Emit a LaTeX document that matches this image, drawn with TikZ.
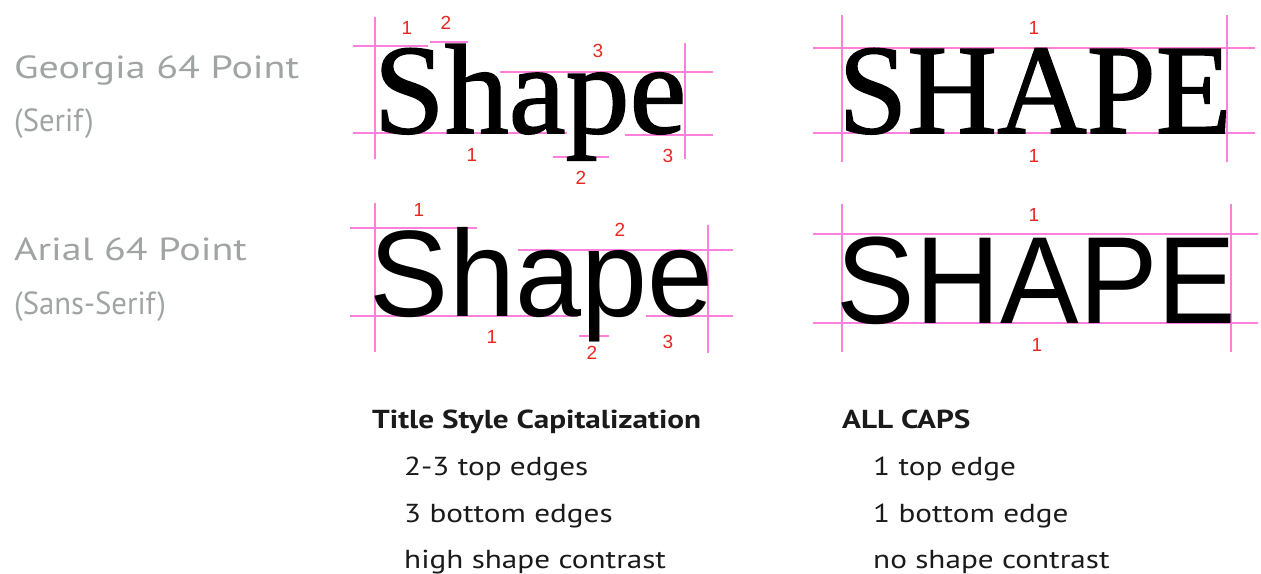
\documentclass[tikz,border=0pt]{standalone}
\usepackage{fontspec}
\usepackage{graphicx}
\setmainfont{PT Sans}
\newfontfamily\serifA{Liberation Serif}[FakeBold=1.2]
\newfontfamily\sansA{Liberation Sans}
\definecolor{guidepink}{HTML}{FF80DC}
\definecolor{numred}{HTML}{E8281E}
\definecolor{labgray}{HTML}{A0A4A2}
\definecolor{txt}{HTML}{1A1A1A}
\newcommand{\wide}[1]{\scalebox{1.2}[1]{#1}}
\begin{document}
\begin{tikzpicture}[x=1pt,y=-1pt,
  guide/.style={draw=guidepink,line width=1.5pt},
  num/.style={text=numred,font=\sansA\fontsize{19}{19}\selectfont,inner sep=0pt,anchor=center},
  big/.style={inner sep=0pt,anchor=base,text=black},
  lab/.style={inner sep=0pt,anchor=base west,text=labgray,font=\fontsize{32}{32}\selectfont},
  body/.style={inner sep=0pt,anchor=base west,text=txt,font=\fontsize{26}{26}\selectfont},
  head/.style={body,font=\bfseries\fontsize{26}{26}\selectfont}]
\useasboundingbox (0,0) rectangle (1261,573);

% left labels
\node[lab] (geo) at (14,78) {\scalebox{1.25}[1]{Georgia 64 Point}};
\node[lab] (geos) at (14,131) {\scalebox{0.96}[1]{(Serif)}};
\node[lab] (ari) at (14,260) {\scalebox{1.25}[1]{Arial 64 Point}};
\node[lab] (aris) at (14,314) {\scalebox{0.96}[1]{(Sans-Serif)}};

% ---- Georgia Shape ----
\draw[guide] (375,17) -- (375,159);
\draw[guide] (685,43) -- (685,159);
\draw[guide] (353,46) -- (428,46);
\draw[guide] (430,42) -- (468,42);
\draw[guide] (500,72) -- (713,72);
\draw[guide] (353,133) -- (567,133);
\draw[guide] (625,135) -- (713,135);
\draw[guide] (553,157) -- (609,157);
\node[big,font=\serifA\fontsize{128}{128}\selectfont] (gs) at (530,133) {Shape};
\node[num] (g1) at (407,28) {1};
\node[num] (g2) at (446,23) {2};
\node[num] (g3) at (598,51) {3};
\node[num] (g1b) at (472,155) {1};
\node[num] (g2b) at (581,178) {2};
\node[num] (g3b) at (668,156) {3};

% ---- Georgia SHAPE ----
\draw[guide] (842,15) -- (842,162);
\draw[guide] (1227,15) -- (1227,162);
\draw[guide] (813,48) -- (1255,48);
\draw[guide] (813,133) -- (1255,133);
\node[big,font=\serifA\fontsize{128}{128}\selectfont] (gc) at (1035,133) {\scalebox{0.97}[1]{SHAPE}};
\node[num] (gc1) at (1034,28) {1};
\node[num] (gc1b) at (1034,156) {1};

% ---- Arial Shape ----
\draw[guide] (375,203) -- (375,352);
\draw[guide] (708,225) -- (708,353);
\draw[guide] (350,228) -- (477,228);
\draw[guide] (518,250) -- (733,250);
\draw[guide] (350,316) -- (578,316);
\draw[guide] (646,316) -- (733,316);
\draw[guide] (579,336) -- (609,336);
\node[big,font=\sansA\fontsize{123}{123}\selectfont] (as) at (541.5,316) {\scalebox{0.965}[1]{Shape}};
\node[num] (a1) at (419,210) {1};
\node[num] (a2) at (620,230) {2};
\node[num] (a1b) at (492,337) {1};
\node[num] (a2b) at (592,353) {2};
\node[num] (a3b) at (668,342) {3};

% ---- Arial SHAPE ----
\draw[guide] (842,204) -- (842,352);
\draw[guide] (1231,204) -- (1231,352);
\draw[guide] (813,234) -- (1258,234);
\draw[guide] (813,323) -- (1258,323);
\node[big,font=\sansA\fontsize{124}{124}\selectfont] (ac) at (1036.5,323) {\scalebox{0.95}[1]{SHAPE}};
\node[num] (ac1) at (1034,215) {1};
\node[num] (ac1b) at (1037,345) {1};

% ---- bottom text ----
\node[head] (t1) at (372,428) {\wide{Title Style Capitalization}};
\node[body] (t2) at (404,475) {\wide{2-3 top edges}};
\node[body] (t3) at (404,522) {\wide{3 bottom edges}};
\node[body] (t4) at (404,568) {\wide{high shape contrast}};
\node[head] (c1) at (842,428) {\wide{ALL CAPS}};
\node[body] (c2) at (873,475) {\wide{1 top edge}};
\node[body] (c3) at (873,522) {\wide{1 bottom edge}};
\node[body] (c4) at (873,568) {\wide{no shape contrast}};
\end{tikzpicture}
\end{document}
